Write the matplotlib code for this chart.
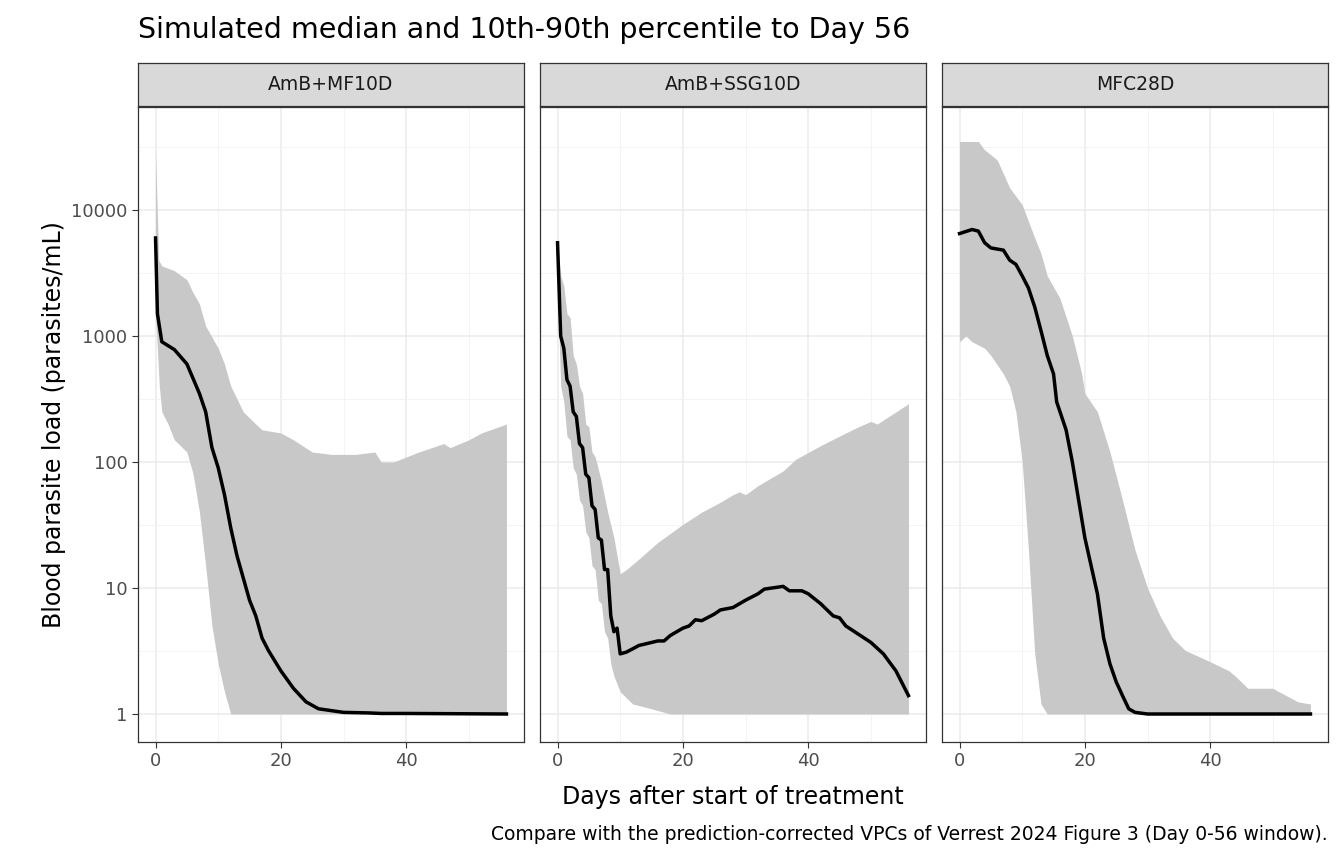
import numpy as np
import matplotlib.pyplot as plt

panels = ['AmB+MF10D', 'AmB+SSG10D', 'MFC28D']

# panel 1
p1_med_x = [0, 0.3, 1, 3, 5, 7, 8, 9, 10, 11, 12, 13, 14, 15, 16, 17, 18, 20, 22, 24, 26, 30, 34, 36, 40, 56]
p1_med_y = [6000, 1500, 900, 780, 600, 350, 250, 130, 90, 55, 30, 18, 12, 8, 6, 4, 3.2, 2.2, 1.6, 1.25, 1.1, 1.03, 1.02, 1.01, 1.01, 1.0]
p1_lo_x = [0, 0.6, 1, 2, 3, 5, 6, 7, 8, 9, 10, 11, 12, 56]
p1_lo_y = [1500, 400, 250, 200, 150, 120, 80, 40, 15, 5, 2.5, 1.5, 1.0, 1.0]
p1_hi_x = [0, 0.5, 1, 3, 5, 6, 7, 8, 10, 11, 12, 14, 16, 17, 20, 22, 25, 28, 32, 35, 36, 38, 42, 46, 47, 50, 52, 56]
p1_hi_y = [30000, 4000, 3600, 3300, 2800, 2200, 1800, 1200, 800, 600, 400, 250, 200, 180, 170, 150, 120, 115, 115, 120, 100, 100, 120, 140, 130, 150, 170, 200]

# panel 2
p2_med_x = [0, 0.5, 1, 1.5, 2, 2.5, 3, 3.5, 4, 4.5, 5, 5.5, 6, 6.5, 7, 7.5, 8, 8.5, 9, 9.5, 10, 11, 13, 16, 17, 18, 20, 21, 22, 23, 25, 26, 28, 30, 32, 33, 36, 37, 39, 40, 42, 44, 45, 46, 48, 50, 52, 54, 56]
p2_med_y = [5500, 1000, 800, 450, 400, 250, 230, 140, 130, 80, 75, 45, 42, 25, 24, 14, 14, 6, 4.5, 4.8, 3.0, 3.1, 3.5, 3.8, 3.8, 4.2, 4.8, 5, 5.6, 5.5, 6.2, 6.7, 7, 8, 9, 9.8, 10.3, 9.5, 9.5, 9, 7.5, 6, 5.8, 5, 4.3, 3.7, 3, 2.2, 1.4]
p2_lo_x = [0, 0.5, 1, 1.5, 2, 2.5, 3, 3.5, 4, 4.5, 5, 5.5, 6, 6.5, 7, 7.5, 8, 8.5, 9, 10, 12, 15, 18, 56]
p2_lo_y = [2500, 400, 300, 160, 150, 90, 80, 50, 45, 28, 25, 15, 14, 8, 7.5, 4.5, 4, 2.5, 2, 1.5, 1.2, 1.1, 1.0, 1.0]
p2_hi_x = [0, 0.5, 1, 1.5, 2, 2.5, 3, 3.5, 4, 4.5, 5, 5.5, 6, 7, 8, 9, 10, 11, 13, 16, 20, 23, 26, 28, 29, 30, 32, 36, 38, 42, 46, 48, 50, 51, 56]
p2_hi_y = [5500, 3000, 2500, 1500, 1400, 700, 600, 400, 350, 200, 190, 120, 110, 70, 40, 25, 13, 14, 17, 23, 32, 40, 48, 55, 58, 55, 65, 85, 105, 135, 170, 190, 210, 200, 290]

# panel 3
p3_med_x = [0, 2, 3, 4, 5, 7, 8, 9, 10, 11, 12, 13, 14, 15, 15.5, 17, 18, 19, 20, 21, 22, 23, 24, 25, 26, 27, 28, 30, 56]
p3_med_y = [6500, 7000, 6800, 5500, 5000, 4800, 4000, 3700, 3000, 2400, 1700, 1100, 700, 500, 300, 180, 100, 50, 25, 15, 9, 4, 2.5, 1.8, 1.4, 1.1, 1.03, 1.0, 1.0]
p3_lo_x = [0, 1, 2, 4, 5, 7, 8, 9, 10, 11, 12, 13, 14, 56]
p3_lo_y = [900, 1000, 900, 800, 700, 500, 400, 250, 100, 20, 3, 1.2, 1.0, 1.0]
p3_hi_x = [0, 3, 4, 6, 8, 10, 12, 13, 14, 16, 18, 19.5, 20, 22, 24, 26, 28, 30, 32, 34, 36, 40, 43, 44, 46, 50, 51, 54, 56]
p3_hi_y = [35000, 35000, 30000, 25000, 15000, 11000, 6000, 4500, 3000, 2000, 1000, 500, 350, 250, 120, 50, 20, 10, 6, 4, 3.2, 2.6, 2.2, 2, 1.6, 1.6, 1.5, 1.25, 1.2]

data = [
    (p1_med_x, p1_med_y, p1_lo_x, p1_lo_y, p1_hi_x, p1_hi_y),
    (p2_med_x, p2_med_y, p2_lo_x, p2_lo_y, p2_hi_x, p2_hi_y),
    (p3_med_x, p3_med_y, p3_lo_x, p3_lo_y, p3_hi_x, p3_hi_y),
]

W, H = 1344, 864
fig = plt.figure(figsize=(W / 100, H / 100), dpi=100)
lefts = [138, 540, 942]
pw = 386
top, bot = 107, 742
ylo, yhi = 10 ** ((714 - 742) / 126), 10 ** ((714 - 107) / 126)

for i, (left, name, d) in enumerate(zip(lefts, panels, data)):
    mx, my, lx, ly, hx, hy = d
    ax = fig.add_axes([left / W, 1 - bot / H, pw / W, (bot - top) / H])
    grid = np.linspace(0, 56, 561)
    lo = np.exp(np.interp(grid, lx, np.log(ly)))
    hi = np.exp(np.interp(grid, hx, np.log(hy)))
    ax.fill_between(grid, lo, hi, color='#c8c8c8', lw=0, zorder=2)
    ax.plot(mx, my, color='black', lw=2.5, zorder=3)
    ax.set_yscale('log')
    ax.set_xticks([0, 20, 40])
    ax.set_xticks([10, 30, 50], minor=True)
    ax.set_yticks([1, 10, 100, 1000, 10000])
    ax.set_yticks([10 ** (k + 0.5) for k in range(0, 5)], minor=True)
    ax.set_xlim(-2.8, 58.8)
    ax.set_ylim(ylo, yhi)
    ax.grid(which='major', color='#ebebeb', lw=1.1, zorder=0)
    ax.grid(which='minor', color='#f3f3f3', lw=0.6, zorder=0)
    ax.set_axisbelow(True)
    for s in ax.spines.values():
        s.set_color('#333333')
        s.set_linewidth(0.9)
    ax.tick_params(which='minor', length=0)
    ax.tick_params(which='major', length=4, color='#333333', labelsize=13, labelcolor='#4d4d4d')
    if i == 0:
        ax.set_yticklabels(['1', '10', '100', '1000', '10000'])
        ax.set_ylabel('Blood parasite load (parasites/mL)', fontsize=17)
    else:
        ax.set_yticklabels([])
        ax.tick_params(axis='y', which='major', length=0)
    sax = fig.add_axes([left / W, 1 - 106 / H, pw / W, 43 / H])
    sax.set_facecolor('#d9d9d9')
    sax.set_xticks([])
    sax.set_yticks([])
    for s in sax.spines.values():
        s.set_color('#333333')
        s.set_linewidth(0.9)
    sax.text(0.5, 0.5, name, ha='center', va='center', fontsize=13.5, color='#1a1a1a',
             transform=sax.transAxes)

fig.text(733 / W, 1 - 797 / H, 'Days after start of treatment', ha='center', va='center', fontsize=17)
fig.text(138 / W, 1 - 30 / H, 'Simulated median and 10th-90th percentile to Day 56', ha='left',
         va='center', fontsize=20.5)
fig.text(1328 / W, 1 - 835 / H,
         'Compare with the prediction-corrected VPCs of Verrest 2024 Figure 3 (Day 0-56 window).',
         ha='right', va='center', fontsize=13.5)
fig.savefig('out.png', dpi=100)
